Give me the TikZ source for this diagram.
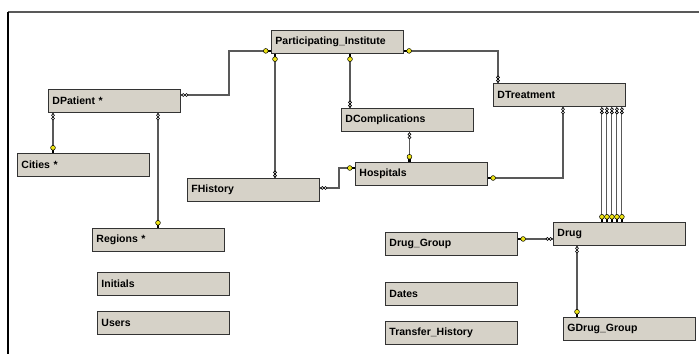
\documentclass[tikz,border=0pt]{standalone}
\usepackage{fontspec}
\setmainfont{Liberation Sans}
\usetikzlibrary{positioning}
\definecolor{tablegray}{RGB}{214,210,200}
\definecolor{keyyellow}{RGB}{238,228,20}
\tikzset{
  table/.style={draw=gray!40!black, line width=0.9pt, fill=tablegray, anchor=north west,
    minimum height=23pt, text width=124pt, inner xsep=4pt, inner ysep=0pt, align=left,
    font=\fontsize{10.5}{12}\selectfont\bfseries},
  rel/.style={draw=gray!70!black, line width=1.3pt},
  keyend/.pic={\fill[black] (0,-1.3) rectangle (3,1.3);
    \draw[fill=keyyellow, line width=0.5pt] (5.2,0) circle (2.4pt);},
  manyend/.pic={\draw[fill=white, line width=0.6pt] (2.4,0) circle (1.5pt) (5.6,0) circle (1.5pt);}
}

\begin{document}
\begin{tikzpicture}[x=1pt,y=-1pt]
  \useasboundingbox (0,0) rectangle (699,354);
  \draw[gray!70!black, line width=2pt] (8,12) -- (699,12);
  \draw[black, line width=1.2pt] (8,12) -- (8,354);

  \node[table] (inst)       at (271,30)  {Participating\_Institute};
  \node[table] (dpatient)   at (48,89)   {DPatient *};
  \node[table] (cities)     at (17,153)  {Cities *};
  \node[table] (dtreat)     at (493,83)  {DTreatment};
  \node[table] (dcompl)     at (341,108) {DComplications};
  \node[table] (hosp)       at (355,162) {Hospitals};
  \node[table] (fhist)      at (187,178) {FHistory};
  \node[table] (regions)    at (92,228)  {Regions *};
  \node[table] (initials)   at (97,272)  {Initials};
  \node[table] (users)      at (97,311)  {Users};
  \node[table] (druggroup)  at (385,232) {Drug\_Group};
  \node[table] (drug)       at (553,222) {Drug};
  \node[table] (dates)      at (385,282) {Dates};
  \node[table] (transfer)   at (385,321) {Transfer\_History};
  \node[table] (gdruggroup) at (563,317) {GDrug\_Group};

  % DPatient - Participating_Institute
  \draw[rel] ([yshift=-6pt]dpatient.north east) coordinate (a1) -- ++(48,0) |- ([yshift=3pt]inst.south west) coordinate (b1);
  \pic[rotate=0] at (a1) {manyend};
  \pic[rotate=180] at (b1) {keyend};
  % Participating_Institute - FHistory
  \draw[rel] ([xshift=4pt]inst.south west) coordinate (a2) -- (a2 |- fhist.north) coordinate (b2);
  \pic[rotate=-90] at (a2) {keyend};
  \pic[rotate=90] at (b2) {manyend};
  % Participating_Institute - DComplications
  \draw[rel] ([xshift=9pt]dcompl.north west) coordinate (b3) -- (b3 |- inst.south) coordinate (a3);
  \pic[rotate=-90] at (a3) {keyend};
  \pic[rotate=90] at (b3) {manyend};
  % Participating_Institute - DTreatment
  \draw[rel] ([yshift=3pt]inst.south east) coordinate (a4) -| ([xshift=5pt]dtreat.north west) coordinate (b4);
  \pic[rotate=0] at (a4) {keyend};
  \pic[rotate=90] at (b4) {manyend};
  % DComplications - Hospitals
  \draw[rel] ([xshift=2pt]dcompl.south) coordinate (a5) -- (a5 |- hosp.north) coordinate (b5);
  \pic[rotate=-90] at (a5) {manyend};
  \pic[rotate=90] at (b5) {keyend};
  % FHistory - Hospitals
  \draw[rel] ([yshift=2pt]fhist.east) coordinate (a6) -- ++(19,0) |- ([yshift=-6pt]hosp.north west) coordinate (b6);
  \pic[rotate=0] at (a6) {manyend};
  \pic[rotate=180] at (b6) {keyend};
  % DTreatment - Hospitals
  \draw[rel] ([xshift=70pt]dtreat.south west) coordinate (a7) |- ([yshift=-16pt]hosp.north east) coordinate (b7);
  \pic[rotate=-90] at (a7) {manyend};
  \pic[rotate=0] at (b7) {keyend};
  % DTreatment - Drug
  \foreach \i in {0,...,4}{
    \draw[rel, line width=1pt] ([xshift={-4pt-5pt*\i}]dtreat.south east) coordinate (a8) -- (a8 |- drug.north) coordinate (b8);
    \pic[rotate=-90] at (a8) {manyend};
    \pic[rotate=90] at (b8) {keyend};
  }
  % Drug_Group - Drug
  \draw[rel] ([yshift=5pt]druggroup.east) coordinate (a9) -- (a9 -| drug.west) coordinate (b9);
  \pic[rotate=0] at (a9) {keyend};
  \pic[rotate=180] at (b9) {manyend};
  % Drug - GDrug_Group
  \draw[rel] ([xshift=24pt]drug.south west) coordinate (a10) -- (a10 |- gdruggroup.north) coordinate (b10);
  \pic[rotate=-90] at (a10) {manyend};
  \pic[rotate=90] at (b10) {keyend};
  % DPatient - Cities, Regions
  \draw[rel] ([xshift=5pt]dpatient.south west) coordinate (a11) -- (a11 |- cities.north) coordinate (b11);
  \pic[rotate=-90] at (a11) {manyend};
  \pic[rotate=90] at (b11) {keyend};
  \draw[rel] ([xshift=110pt]dpatient.south west) coordinate (a12) -- (a12 |- regions.north) coordinate (b12);
  \pic[rotate=-90] at (a12) {manyend};
  \pic[rotate=90] at (b12) {keyend};
\end{tikzpicture}
\end{document}
